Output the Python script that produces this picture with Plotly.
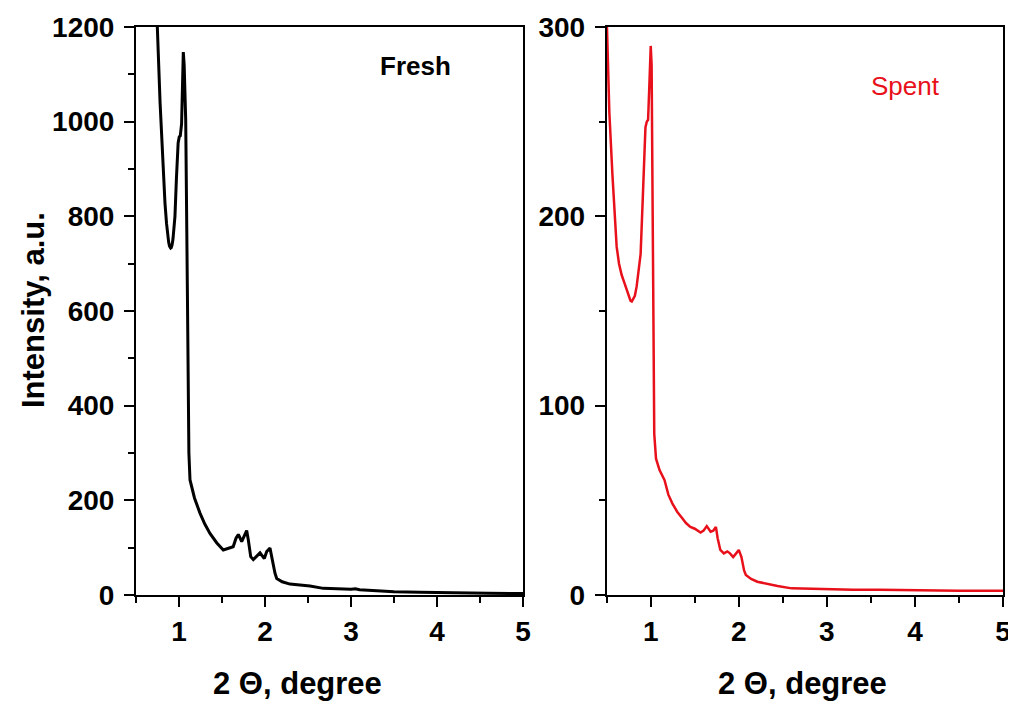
import plotly.graph_objects as go
from plotly.subplots import make_subplots

# --- Data (2 theta in degree, intensity in a.u.) ---
fresh_theta = [
    0.73, 0.744, 0.759, 0.78, 0.806, 0.837, 0.855, 0.869, 0.88, 0.89, 0.897, 0.903,
    0.91, 0.92, 0.93, 0.94, 0.953, 0.97, 0.99, 1.003, 1.015, 1.03, 1.04, 1.05,
    1.06, 1.078, 1.097, 1.105, 1.115, 1.128, 1.18, 1.244, 1.30, 1.36, 1.44, 1.515,
    1.593, 1.63, 1.663, 1.69, 1.729, 1.787, 1.806, 1.834, 1.864, 1.90, 1.942, 1.992,
    2.02, 2.058, 2.09, 2.116, 2.136, 2.20, 2.29, 2.40, 2.523, 2.678, 2.8, 2.9,
    3.0, 3.05, 3.1, 3.3, 3.5, 3.8, 4.0, 4.3, 4.6, 5.0,
]
fresh_intensity = [
    1290, 1200, 1145, 1040, 934, 828, 785, 757, 745, 737, 734, 733,
    734, 740, 752, 770, 800, 880, 955, 968, 970, 995, 1090, 1147,
    1120, 1003, 651, 412, 300, 243, 205, 173, 150, 130, 110, 95,
    99, 102, 120, 128, 113, 136, 116, 81, 75, 82, 89, 77,
    92, 99, 67, 46, 35, 28, 23, 21, 19, 14, 13, 12,
    12, 13, 11, 9, 7, 6, 5, 4, 3.5, 3,
]

spent_theta = [
    0.50, 0.53, 0.565, 0.59, 0.613, 0.64, 0.67, 0.70, 0.72, 0.74, 0.755, 0.77,
    0.785, 0.80, 0.82, 0.84, 0.865, 0.885, 0.91, 0.94, 0.955, 0.97, 0.985, 1.0,
    1.01, 1.02, 1.03, 1.04, 1.06, 1.10, 1.157, 1.20, 1.245, 1.30, 1.358, 1.40,
    1.45, 1.50, 1.566, 1.60, 1.636, 1.66, 1.68, 1.71, 1.74, 1.76, 1.79, 1.83,
    1.87, 1.90, 1.936, 1.97, 2.0, 2.03, 2.06, 2.08, 2.14, 2.21, 2.3, 2.44,
    2.6, 2.8, 3.0, 3.3, 3.6, 4.0, 4.5, 5.0,
]
spent_intensity = [
    305, 255, 222, 200, 184, 175, 169, 165, 162, 159, 157, 155.5,
    155, 156, 158, 163, 171, 180, 210, 247, 250, 251, 270, 290,
    280, 200, 120, 85, 72, 66, 60.7, 53, 48.4, 44, 40.5, 38,
    36, 35, 33, 34, 36.4, 35, 33.4, 34, 36, 30, 23.8, 22,
    23, 22, 20, 22, 23.8, 20, 13, 10.6, 8.5, 7, 6, 4.8,
    3.5, 3.2, 3, 2.8, 2.8, 2.5, 2.3, 2.2,
]

FONT = "Liberation Sans"
RED = "#e8101a"

# the page body has an 8px margin, so the figure is 8px smaller than the window
W, H = 1008, 693


def px(x):
    return (x - 8) / W


def py(y):
    return 1 - (y - 8) / H


def main():
    fig = make_subplots(rows=1, cols=2)

    fig.add_trace(
        go.Scatter(x=fresh_theta, y=fresh_intensity, mode="lines",
                   line=dict(color="black", width=3), showlegend=False),
        row=1, col=1,
    )
    fig.add_trace(
        go.Scatter(x=spent_theta, y=spent_intensity, mode="lines",
                   line=dict(color=RED, width=2.5), showlegend=False),
        row=1, col=2,
    )

    axis_common = dict(
        showline=True, linecolor="black", linewidth=2, mirror=True,
        ticks="outside", ticklen=10, tickwidth=2, tickcolor="black",
        showgrid=False, zeroline=False, automargin=False,
        tickfont=dict(family=FONT, size=28, color="black", weight="bold"),
    )
    minor_x = dict(dtick=0.5, ticks="outside", ticklen=6, tickwidth=2, tickcolor="black")

    fig.update_xaxes(range=[0.5, 5], tick0=0, dtick=1, minor=minor_x, **axis_common)
    fig.update_xaxes(domain=[px(136), px(523)], row=1, col=1)
    fig.update_xaxes(domain=[px(606.7), px(1003)], row=1, col=2)

    fig.update_yaxes(domain=[py(595), py(27)], ticklabelstandoff=4, **axis_common)
    fig.update_yaxes(range=[0, 1200], dtick=200,
                     minor=dict(dtick=100, ticks="outside", ticklen=6, tickwidth=2, tickcolor="black"),
                     row=1, col=1)
    fig.update_yaxes(range=[0, 300], dtick=100,
                     minor=dict(dtick=50, ticks="outside", ticklen=6, tickwidth=2, tickcolor="black"),
                     row=1, col=2)

    title_font = dict(family=FONT, size=31, color="black", weight="bold")
    annotations = [
        dict(text="Fresh", x=px(415), y=py(66),
             font=dict(family=FONT, size=26, color="black", weight="bold")),
        dict(text="Spent", x=px(905), y=py(86),
             font=dict(family=FONT, size=26, color=RED)),
        dict(text="Intensity, a.u.", x=px(33), y=py(310), textangle=-90, font=title_font),
        dict(text="2 Θ, degree", x=px(297), y=py(683), font=title_font),
        dict(text="2 Θ, degree", x=px(802), y=py(683), font=title_font),
    ]
    for a in annotations:
        a.update(xref="paper", yref="paper", showarrow=False, xanchor="center", yanchor="middle")

    fig.update_layout(
        width=W, height=H,
        margin=dict(l=0, r=0, t=0, b=0),
        paper_bgcolor="white", plot_bgcolor="white",
        annotations=annotations,
    )

    fig.write_html("out.html")


if __name__ == "__main__":
    main()
